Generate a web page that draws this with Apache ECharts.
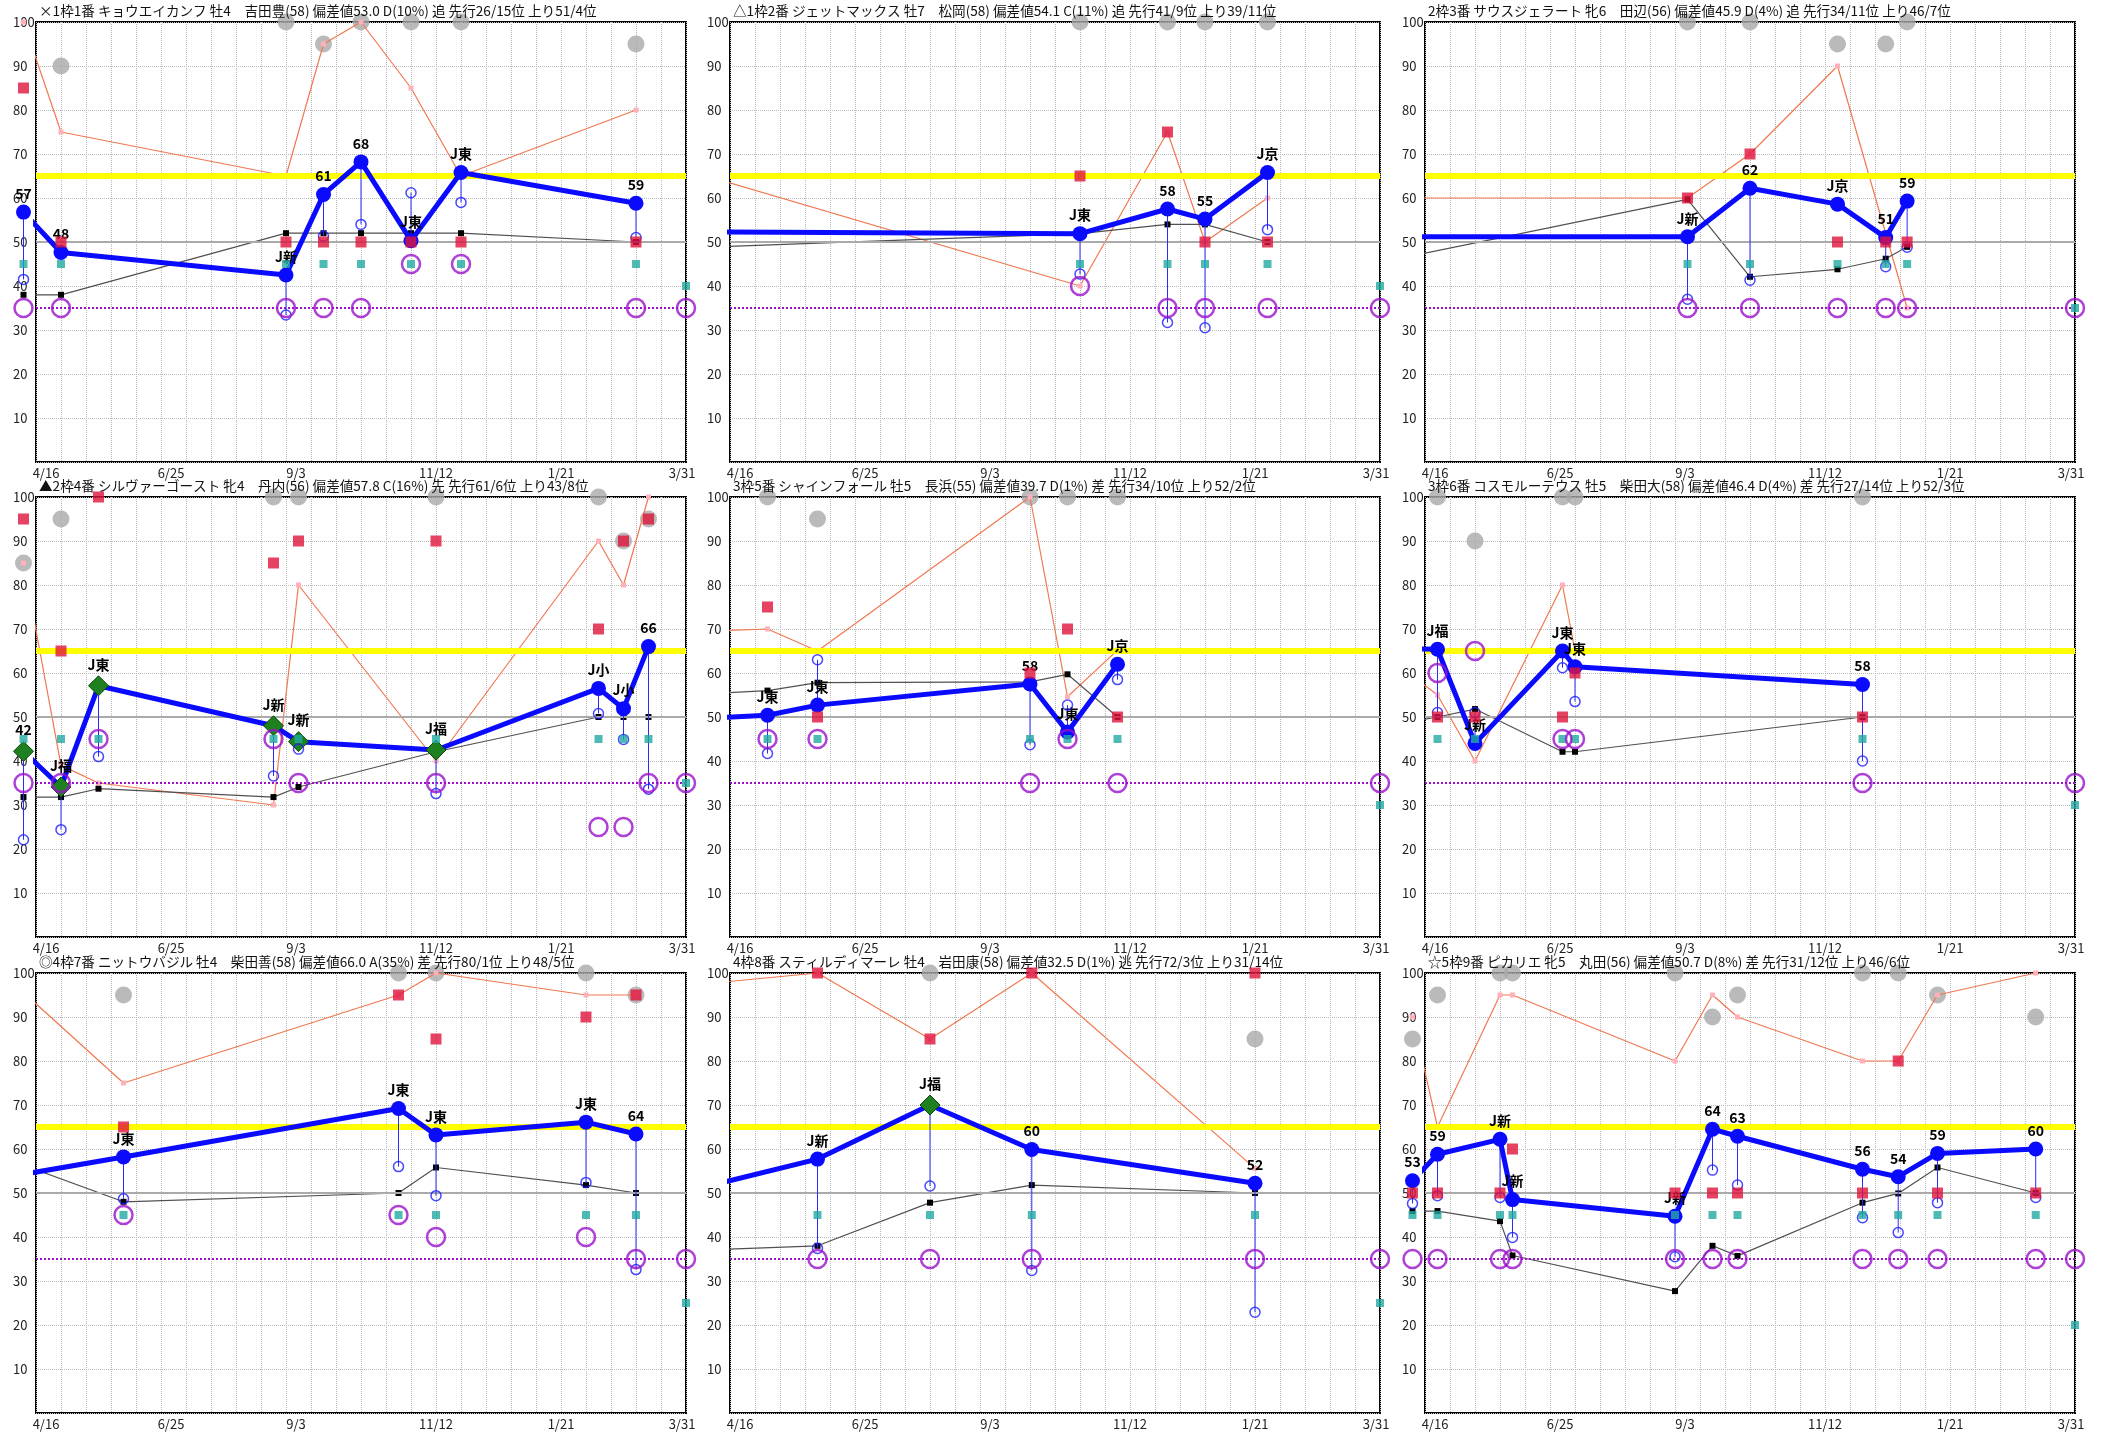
<!DOCTYPE html>
<html>
<head>
<meta charset="utf-8">
<script src="https://cdn.jsdelivr.net/npm/echarts@6/dist/echarts.min.js"></script>
<style>
  html, body { margin: 0; padding: 0; background: #fff; }
  #chart { width: 2109px; height: 1437px; }
</style>
</head>
<body>
<div id="chart"></div>
<script>
// x軸: 左端 2023/4/2 から 364 日、2週ごとに縦線
const startDate = '2023-04-02';
const spanDays = 364;
const leadDay = -15;
const tickLabels = ['4/16', '6/25', '9/3', '11/12', '1/21', '3/31'];
const refLevels = [65, 50, 35];

const titles = [
  '×1枠1番 キョウエイカンフ 牡4　吉田豊(58) 偏差値53.0 D(10%) 追 先行26/15位 上り51/4位',
  '△1枠2番 ジェットマックス 牡7　松岡(58) 偏差値54.1 C(11%) 追 先行41/9位 上り39/11位',
  '2枠3番 サウスジェラート 牝6　田辺(56) 偏差値45.9 D(4%) 追 先行34/11位 上り46/7位',
  '▲2枠4番 シルヴァーゴースト 牝4　丹内(56) 偏差値57.8 C(16%) 先 先行61/6位 上り43/8位',
  '3枠5番 シャインフォール 牡5　長浜(55) 偏差値39.7 D(1%) 差 先行34/10位 上り52/2位',
  '3枠6番 コスモルーテウス 牡5　柴田大(58) 偏差値46.4 D(4%) 差 先行27/14位 上り52/3位',
  '◎4枠7番 ニットウバジル 牡4　柴田善(58) 偏差値66.0 A(35%) 差 先行80/1位 上り48/5位',
  '4枠8番 スティルディマーレ 牡4　岩田康(58) 偏差値32.5 D(1%) 逃 先行72/3位 上り31/14位',
  '☆5枠9番 ピカリエ 牝5　丸田(56) 偏差値50.7 D(8%) 差 先行31/12位 上り46/6位'
];

const raceDates = [
  ['2023-03-26', '2023-04-16', '2023-08-20', '2023-09-10', '2023-10-01', '2023-10-29', '2023-11-26', '2024-03-03', '2024-03-31'],
  ['2023-10-15', '2023-12-03', '2023-12-24', '2024-01-28', '2024-03-31'],
  ['2023-08-27', '2023-10-01', '2023-11-19', '2023-12-16', '2023-12-28', '2024-03-31'],
  ['2023-03-26', '2023-04-16', '2023-05-07', '2023-08-13', '2023-08-27', '2023-11-12', '2024-02-11', '2024-02-25', '2024-03-10', '2024-03-31'],
  ['2023-04-23', '2023-05-21', '2023-09-17', '2023-10-08', '2023-11-05', '2024-03-31'],
  ['2023-04-09', '2023-04-30', '2023-06-18', '2023-06-25', '2023-12-03', '2024-03-31'],
  ['2023-05-21', '2023-10-22', '2023-11-12', '2024-02-04', '2024-03-03', '2024-03-31'],
  ['2023-05-21', '2023-07-23', '2023-09-18', '2024-01-21', '2024-03-31'],
  ['2023-03-26', '2023-04-09', '2023-05-14', '2023-05-21', '2023-08-20', '2023-09-10', '2023-09-24', '2023-12-03', '2023-12-23', '2024-01-14', '2024-03-09', '2024-03-31']
];

// 指数 (青太線)
const indexVals = [
  [56.8, 47.6, 42.5, 60.8, 68.2, 50.3, 65.8, 58.8, null],
  [51.9, 57.5, 55.2, 65.8, null],
  [51.2, 62.2, 58.6, 51.0, 59.3, null],
  [42.2, 34.1, 57.1, 48.0, 44.4, 42.5, 56.5, 51.9, 66.0, null],
  [50.4, 52.7, 57.5, 46.6, 62.0, null],
  [65.4, 44.0, 65.0, 61.4, 57.4, null],
  [58.2, 69.2, 63.2, 66.1, 63.4, null],
  [57.7, 70.0, 59.9, 52.2, null],
  [52.8, 58.8, 62.2, 48.5, 44.7, 64.5, 62.9, 55.4, 53.7, 59.0, 60.0, null]
];
const indexLabels = [
  ['57', '48', 'J新', '61', '68', 'J東', 'J東', '59', ''],
  ['J東', '58', '55', 'J京', ''],
  ['J新', '62', 'J京', '51', '59', ''],
  ['42', 'J福', 'J東', 'J新', 'J新', 'J福', 'J小', 'J小', '66', ''],
  ['J東', 'J東', '58', 'J東', 'J京', ''],
  ['J福', 'J新', 'J東', 'J東', '58', ''],
  ['J東', 'J東', 'J東', 'J東', '64', ''],
  ['J新', 'J福', '60', '52', ''],
  ['53', '59', 'J新', 'J新', 'J新', '64', '63', '56', '54', '59', '60', '']
];
// 緑ひし形で描くレース
const diamondAt = [[], [], [], [0, 1, 2, 3, 4, 5], [], [], [], [1], []];

// 青白丸 (縦線で指数とつなぐ)
const subVals = [
  [41.5, null, 33.4, 51.3, 54.0, 61.2, 59.0, 51.0, null],
  [42.7, 31.7, 30.5, 52.8, null],
  [37.0, 41.3, null, 44.4, 48.8, null],
  [22.1, 24.4, 41.0, 36.6, 42.7, 32.6, 50.8, 44.9, 33.6, null],
  [41.7, 63.0, 43.7, 52.7, 58.5, null],
  [51.0, 51.0, 61.2, 53.5, 40.0, null],
  [48.7, 56.0, 49.4, 52.4, 32.6, null],
  [37.4, 51.6, 32.4, 22.9, null],
  [47.6, 49.4, 49.0, 39.9, 35.5, 55.2, 51.8, 44.4, 41.0, 47.8, 49.0, null]
];
// 黒細線
const avgVals = [
  [38, 38, 52, 52, 52, 52, 52, 50, null],
  [51.9, 54, 54, 50, null],
  [59.7, 42.1, 43.8, 46.2, 48.9, null],
  [31.8, 31.8, 33.7, 31.8, 34.1, 42.1, 50, 50, 50, null],
  [56, 57.8, 58, 59.7, 50, null],
  [50, 51.8, 42.1, 42.1, 50, null],
  [48, 50, 55.8, 51.8, 50, null],
  [38, 47.8, 51.8, 50, null],
  [45.9, 45.9, 43.6, 35.8, 27.7, 38, 35.7, 47.8, 49.9, 55.8, 50, null]
];
// 橙細線
const paceVals = [
  [100, 75, 65, 95, 100, 85, 65, 80, null],
  [40, 75, 50, 60, null],
  [60, 70, 90, null, 35, null],
  [85, 39, 35, 30, 80, 40, 90, 80, 100, null],
  [70, 65, 100, 54.6, 65.2, null],
  [55, 40, 80, 65, 65, null],
  [75, 95, 100, 95, 95, null],
  [100, 85, 100, 55.6, null],
  [90, 65, 95, 95, 80, 95, 90, 80, 80, 95, 100, null]
];
const redVals = [
  [85, 50, 50, 50, 50, 50, 50, 50, null],
  [65, 75, 50, 50, null],
  [60, 70, 50, 50, 50, null],
  [95, 65, 100, 85, 90, 90, 70, 90, 95, null],
  [75, 50, 60, 70, 50, null],
  [50, 50, 50, 60, 50, null],
  [65, 95, 85, 90, 95, null],
  [100, 85, 100, 100, null],
  [50, 50, 50, 60, 50, 50, 50, 50, 80, 50, 50, null]
];
const tealVals = [
  [45, 45, 45, 45, 45, 45, 45, 45, 40],
  [45, 45, 45, 45, 40],
  [45, 45, 45, 45, 45, 35],
  [45, 45, 45, 45, 45, 45, 45, 45, 45, 35],
  [45, 45, 45, 45, 45, 30],
  [45, 45, 45, 45, 45, 30],
  [45, 45, 45, 45, 45, 25],
  [45, 45, 45, 45, 25],
  [45, 45, 45, 45, 45, 45, 45, 45, 45, 45, 45, 20]
];
const grayVals = [
  [null, 90, 100, 95, 100, 100, 100, 95, null],
  [100, 100, 100, 100, null],
  [100, 100, 95, 95, 100, null],
  [85, 95, null, 100, 100, 100, 100, 90, 95, null],
  [100, 95, 100, 100, 100, null],
  [100, 90, 100, 100, 100, null],
  [95, 100, 100, 100, 95, null],
  [null, 100, null, 85, null],
  [85, 95, 100, 100, 100, 90, 95, 100, 100, 95, 90, null]
];
const purpleVals = [
  [35, 35, 35, 35, 35, 45, 45, 35, 35],
  [40, 35, 35, 35, 35],
  [35, 35, 35, 35, 35, 35],
  [35, 35, 45, 45, 35, 35, 25, 25, 35, 35],
  [45, 45, 35, 45, 35, 35],
  [60, 65, 45, 45, 35, 35],
  [45, 45, 40, 40, 35, 35],
  [35, 35, 35, 35, 35],
  [35, 35, 35, 35, 35, 35, 35, 35, 35, 35, 35, 35]
];
// 左端の外から入ってくる線の値 (青, 黒, 橙)
const leadBlue = [51.5, 52.3, 51.2, 45.5, 49.7, 65.6, 53.7, 51.3, 51.4];
const leadBlack = [37, 48.8, 46.2, 31.8, 55.2, 48.5, 57.5, 37, 44.6];
const leadPace = [95, 65.2, 60, 55, 69.5, 61.8, 98.5, 97.5, 86.3];

const colLeft = [36, 730, 1425];
const rowTop = [22, 497, 973];
const plotW = 650, plotH = 440;
const font = '"Noto Sans CJK JP", "Noto Sans", sans-serif';

const refStyles = [
  { color: '#ffff00', width: 6, type: 'solid' },
  { color: '#aaaaaa', width: 2, type: 'solid' },
  { color: '#9a10cc', width: 2, type: 'dotted' }
];

function dayOf(s) {
  return Math.round((Date.parse(s) - Date.parse(startDate)) / 864e5);
}

const option = { animation: false, title: [], grid: [], xAxis: [], yAxis: [], series: [] };

titles.forEach((t, i) => {
  const left = colLeft[i % 3];
  const top = rowTop[Math.floor(i / 3)];
  const days = raceDates[i].map(dayOf);
  const pts = vals => days.map((d, j) => (vals[j] == null ? null : [d, vals[j]])).filter(Boolean);
  const withLead = (lead, vals) => {
    const arr = pts(vals).map(p => ({ value: p }));
    if (lead != null) arr.unshift({ value: [leadDay, lead], symbol: 'none' });
    return arr;
  };
  const axisRef = { xAxisIndex: i, yAxisIndex: i, clip: false };

  option.title.push({
    text: t, left: left + 3, top: top - 18, padding: 0,
    textStyle: { fontSize: 13.6, fontWeight: 'normal', color: '#111', fontFamily: font }
  });
  option.grid.push({
    left: left, top: top, width: plotW, height: plotH,
    show: true, borderColor: '#000', borderWidth: 2, backgroundColor: '#fff',
    outerBoundsMode: 'none'
  });
  option.xAxis.push({
    type: 'value', gridIndex: i, min: 0, max: spanDays, interval: 14,
    axisLine: { show: false }, axisTick: { show: false },
    splitLine: { show: true, lineStyle: { color: '#b8b8b8', type: 'dotted', width: 1 } },
    axisLabel: {
      margin: 5, fontSize: 13, color: '#222', fontFamily: font,
      formatter: v => {
        const k = (v - 14) / 70;
        if (!Number.isInteger(k) || k < 0 || k >= tickLabels.length) return '';
        if (k < 3) return '{s|' + tickLabels[k] + '}';
        if (k === tickLabels.length - 1) return '{e|' + tickLabels[k] + '}';
        return tickLabels[k];
      },
      rich: {
        s: { padding: [0, 30, 0, 0], fontSize: 13, color: '#222', fontFamily: font },
        e: { padding: [0, 8, 0, 0], fontSize: 13, color: '#222', fontFamily: font }
      }
    }
  });
  option.yAxis.push({
    type: 'value', gridIndex: i, min: 0, max: 100, interval: 10,
    axisLine: { show: false }, axisTick: { show: false },
    splitLine: { show: true, lineStyle: { color: '#b8b8b8', type: 'dotted', width: 1 } },
    axisLabel: {
      margin: 23, align: 'left', fontSize: 13, color: '#222', fontFamily: font,
      formatter: v => (v === 0 ? '' : String(v))
    }
  });

  // 基準線 65 / 50 / 35
  option.series.push({
    type: 'line', ...axisRef, data: [], z: 1, silent: true,
    markLine: {
      silent: true, symbol: 'none', animation: false, label: { show: false },
      data: refLevels.map((y, k) => ({ yAxis: y, lineStyle: refStyles[k] }))
    }
  });
  option.series.push({
    type: 'scatter', ...axisRef, z: 2, symbol: 'circle', symbolSize: 17,
    itemStyle: { color: '#a9a9a9' }, data: pts(grayVals[i])
  });
  option.series.push({
    type: 'line', ...axisRef, z: 3, symbol: 'rect', symbolSize: 5, showAllSymbol: true,
    lineStyle: { color: '#f07850', width: 1.2 }, itemStyle: { color: '#ffb0b8' },
    data: withLead(leadPace[i], paceVals[i])
  });
  option.series.push({
    type: 'line', ...axisRef, z: 4, symbol: 'rect', symbolSize: 6, showAllSymbol: true,
    lineStyle: { color: '#505050', width: 1.2 }, itemStyle: { color: '#000' },
    data: withLead(leadBlack[i], avgVals[i])
  });
  // 指数と青白丸をつなぐ縦線
  option.series.push({
    type: 'custom', ...axisRef, z: 5, silent: true,
    encode: { x: 0, y: [1, 2] },
    data: days.map((d, j) => (indexVals[i][j] != null && subVals[i][j] != null ? [d, indexVals[i][j], subVals[i][j]] : null)).filter(Boolean),
    renderItem: (params, api) => {
      const a = api.coord([api.value(0), api.value(1)]);
      const b = api.coord([api.value(0), api.value(2)]);
      return { type: 'line', shape: { x1: a[0], y1: a[1], x2: b[0], y2: b[1] }, style: { stroke: '#2a2aff', lineWidth: 1 } };
    }
  });
  const blueData = [];
  if (leadBlue[i] != null) blueData.push({ value: [leadDay, leadBlue[i]], name: '', symbol: 'none' });
  days.forEach((d, j) => {
    const v = indexVals[i][j];
    if (v == null) return;
    const dia = diamondAt[i].includes(j);
    blueData.push(dia
      ? { value: [d, v], name: indexLabels[i][j], symbol: 'diamond', symbolSize: 20, itemStyle: { color: '#1f801f', borderColor: '#0c4a0c', borderWidth: 1 } }
      : { value: [d, v], name: indexLabels[i][j] });
  });
  option.series.push({
    type: 'line', ...axisRef, z: 6, symbol: 'circle', symbolSize: 15, showAllSymbol: true,
    lineStyle: { color: '#0a0aff', width: 5 }, itemStyle: { color: '#0a0aff' },
    label: { show: true, position: 'top', distance: 4, formatter: '{b}', fontSize: 14, fontWeight: 'bold', color: '#000', fontFamily: font },
    data: blueData
  });
  option.series.push({
    type: 'scatter', ...axisRef, z: 7, symbol: 'circle', symbolSize: 10,
    itemStyle: { color: 'transparent', borderColor: '#1a1aff', borderWidth: 1.5 },
    data: pts(subVals[i])
  });
  option.series.push({
    type: 'scatter', ...axisRef, z: 8, symbol: 'rect', symbolSize: 11,
    itemStyle: { color: '#e0143c' }, data: pts(redVals[i])
  });
  option.series.push({
    type: 'scatter', ...axisRef, z: 9, symbol: 'rect', symbolSize: 8,
    itemStyle: { color: '#20aaa0' }, data: pts(tealVals[i])
  });
  option.series.push({
    type: 'scatter', ...axisRef, z: 10, symbol: 'circle', symbolSize: 18,
    itemStyle: { color: 'transparent', borderColor: '#9a10cc', borderWidth: 2.5 },
    data: pts(purpleVals[i])
  });
});

echarts.init(document.getElementById('chart')).setOption(option);
</script>
</body>
</html>
